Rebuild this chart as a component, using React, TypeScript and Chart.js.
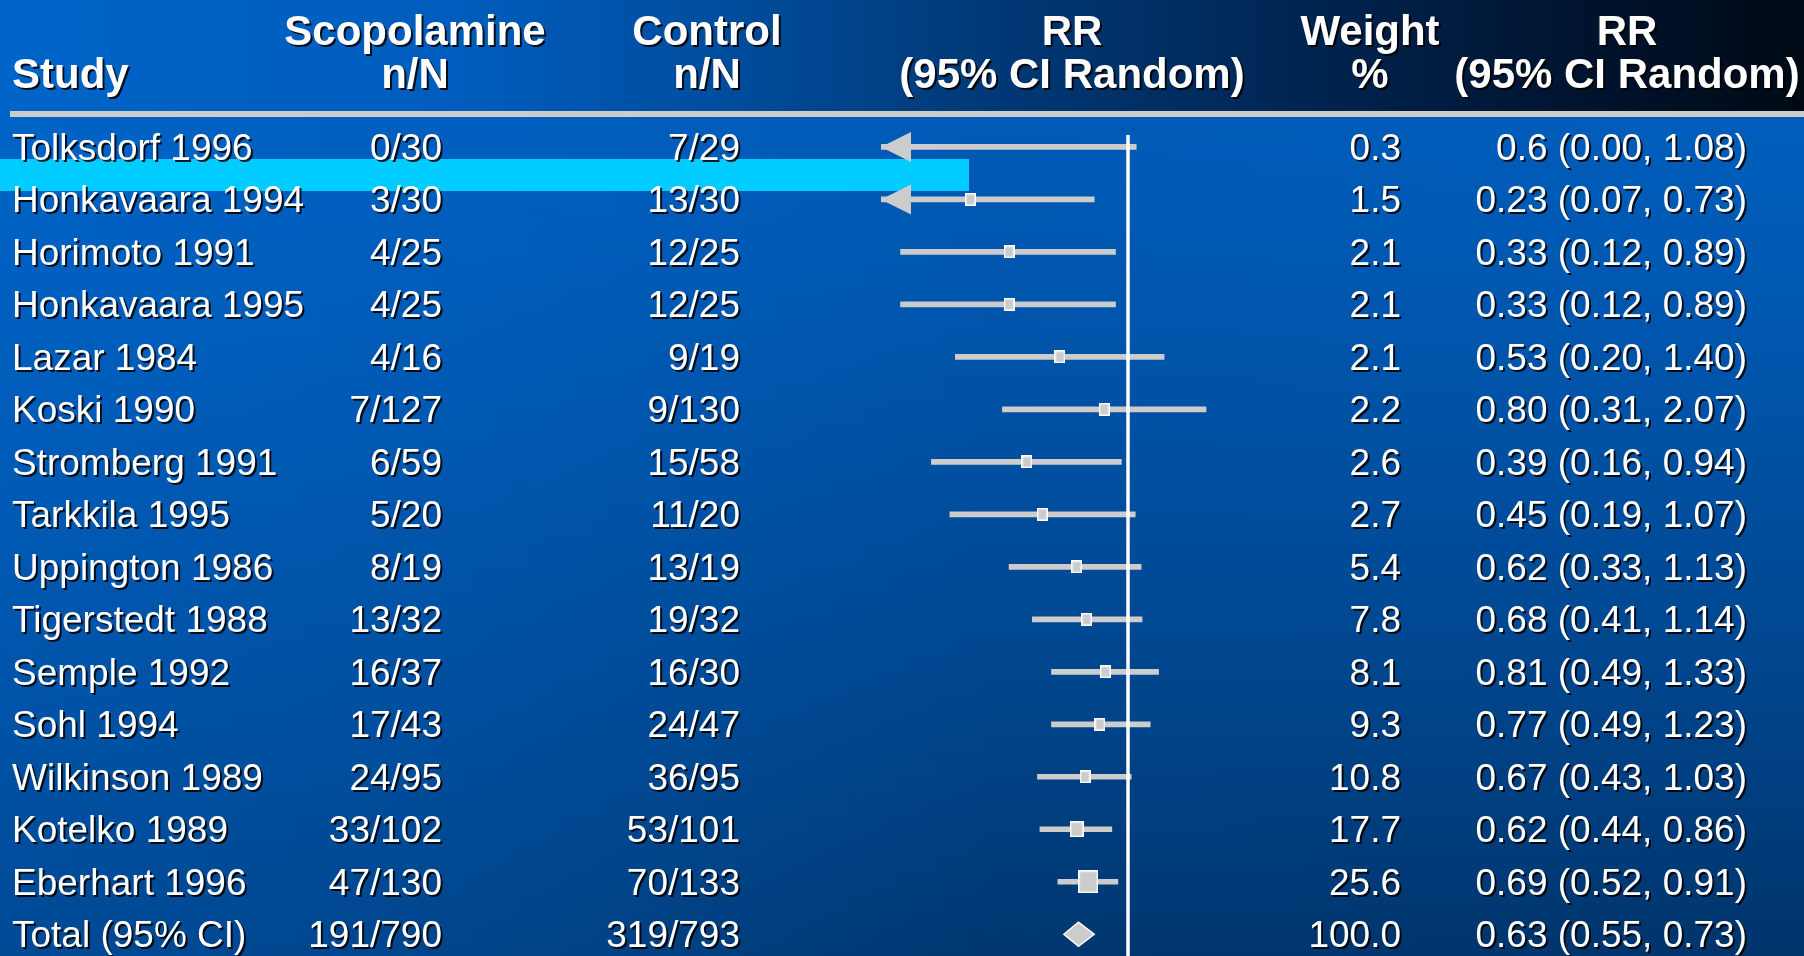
import React, { useEffect, useRef } from "react";
import { Chart, registerables } from "chart.js";

Chart.register(...registerables);

// ---------------- data ----------------
const studies = [
  "Tolksdorf 1996", "Honkavaara 1994", "Horimoto 1991", "Honkavaara 1995", "Lazar 1984",
  "Koski 1990", "Stromberg 1991", "Tarkkila 1995", "Uppington 1986", "Tigerstedt 1988",
  "Semple 1992", "Sohl 1994", "Wilkinson 1989", "Kotelko 1989", "Eberhart 1996", "Total (95% CI)",
];
const scopolamine = [
  "0/30", "3/30", "4/25", "4/25", "4/16", "7/127", "6/59", "5/20", "8/19", "13/32",
  "16/37", "17/43", "24/95", "33/102", "47/130", "191/790",
];
const control = [
  "7/29", "13/30", "12/25", "12/25", "9/19", "9/130", "15/58", "11/20", "13/19", "19/32",
  "16/30", "24/47", "36/95", "53/101", "70/133", "319/793",
];
const rr = [0.6, 0.23, 0.33, 0.33, 0.53, 0.8, 0.39, 0.45, 0.62, 0.68, 0.81, 0.77, 0.67, 0.62, 0.69, 0.63];
const ciLow = [0.0, 0.07, 0.12, 0.12, 0.2, 0.31, 0.16, 0.19, 0.33, 0.41, 0.49, 0.49, 0.43, 0.44, 0.52, 0.55];
const ciHigh = [1.08, 0.73, 0.89, 0.89, 1.4, 2.07, 0.94, 1.07, 1.13, 1.14, 1.33, 1.23, 1.03, 0.86, 0.91, 0.73];
const weights = [0.3, 1.5, 2.1, 2.1, 2.1, 2.2, 2.6, 2.7, 5.4, 7.8, 8.1, 9.3, 10.8, 17.7, 25.6, 100.0];
const rrLabels = [
  "0.6 (0.00, 1.08)", "0.23 (0.07, 0.73)", "0.33 (0.12, 0.89)", "0.33 (0.12, 0.89)",
  "0.53 (0.20, 1.40)", "0.80 (0.31, 2.07)", "0.39 (0.16, 0.94)", "0.45 (0.19, 1.07)",
  "0.62 (0.33, 1.13)", "0.68 (0.41, 1.14)", "0.81 (0.49, 1.33)", "0.77 (0.49, 1.23)",
  "0.67 (0.43, 1.03)", "0.62 (0.44, 0.86)", "0.69 (0.52, 0.91)", "0.63 (0.55, 0.73)",
];
const headerLine1 = ["", "Scopolamine", "Control", "RR", "Weight", "RR"];
const headerLine2 = ["Study", "n/N", "n/N", "(95% CI Random)", "%", "(95% CI Random)"];
const TOTAL_INDEX = 15;

// ---------------- layout / style ----------------
const W = 1804;
const H = 956;
const X_MIN = 0.1;
const X_MAX = 10;
const PLOT_LEFT = 881;
const PLOT_RIGHT = 1375;
const ROW0 = 147;
const STEP = 52.55;
const Y_MIN = -1;
const Y_MAX = 15.3;
const FONT = '"Liberation Sans", Arial, Helvetica, sans-serif';
const GREY = "#cccccc";

const HEADER_BOTTOM = 111;
const RULE_H = 6;
const BODY_TOP_Y = HEADER_BOTTOM + RULE_H;

const headerStops: [number, string][] = [
  [0, "#0064c8"], [0.25, "#005dbd"], [0.4, "#004d9e"], [0.5, "#003f82"],
  [0.6, "#00336c"], [0.72, "#002552"], [0.85, "#001634"], [1, "#000a16"],
];
const BODY_X = [0, 0.25, 0.55, 1];
const BODY_TOP = ["#0063c6", "#005fbf", "#005ab6", "#005dbb"];
const BODY_BOTTOM = ["#004a96", "#00458b", "#003770", "#00346b"];

// column anchors
const headerCenters = [0, 415, 707, 1072, 1370, 1627];
const STUDY_X = 12;
const SCOP_RIGHT = 442;
const CTRL_RIGHT = 740;
const WEIGHT_RIGHT = 1401;
const RR_RIGHT = 1747;

function hex(c: string): number[] {
  const v = parseInt(c.slice(1), 16);
  return [(v >> 16) & 255, (v >> 8) & 255, v & 255];
}
function mix(a: string, b: string, t: number): string {
  const A = hex(a);
  const B = hex(b);
  const r = A.map((v, i) => Math.round(v + (B[i] - v) * t));
  return `rgb(${r[0]},${r[1]},${r[2]})`;
}

function makeBox(weight: number): HTMLCanvasElement {
  const w = Math.round(Math.max(10.5, 0.77 * weight));
  const h = Math.round(w * 1.17);
  const c = document.createElement("canvas");
  c.width = w;
  c.height = h;
  const ctx = c.getContext("2d")!;
  ctx.fillStyle = "#ffffff";
  ctx.fillRect(0, 0, w, h);
  ctx.fillStyle = GREY;
  ctx.fillRect(1.5, 1.5, w - 3, h - 3);
  return c;
}

const forestPlugin = {
  id: "forestDecor",
  beforeDraw(chart: any) {
    const ctx: CanvasRenderingContext2D = chart.ctx;
    ctx.save();
    const hg = ctx.createLinearGradient(0, 0, W, 0);
    headerStops.forEach(([o, c]) => hg.addColorStop(o, c));
    ctx.fillStyle = hg;
    ctx.fillRect(0, 0, W, HEADER_BOTTOM + RULE_H);
    for (let y = BODY_TOP_Y; y < H; y += 3) {
      const t = Math.pow((y - BODY_TOP_Y) / (H - BODY_TOP_Y), 1.3);
      const g = ctx.createLinearGradient(0, 0, W, 0);
      BODY_X.forEach((o, k) => g.addColorStop(o, mix(BODY_TOP[k], BODY_BOTTOM[k], t)));
      ctx.fillStyle = g;
      ctx.fillRect(0, y, W, 3);
    }
    ctx.fillStyle = GREY;
    ctx.fillRect(10, HEADER_BOTTOM, W - 10, RULE_H);
    ctx.fillStyle = "#00ccff";
    ctx.fillRect(0, 159, 969, 32);
    ctx.restore();
  },
  afterDatasetsDraw(chart: any) {
    const ctx: CanvasRenderingContext2D = chart.ctx;
    const xs = chart.scales.x;
    const ys = chart.scales.y;
    ctx.save();

    // reference line at RR = 1
    const x1 = xs.getPixelForValue(1);
    ctx.fillStyle = "#ffffff";
    ctx.fillRect(x1 - 1.75, ys.getPixelForValue(0) - 12, 3.5, H);

    // arrows for CIs below the axis minimum
    ctx.fillStyle = GREY;
    for (let i = 0; i < TOTAL_INDEX; i++) {
      if (ciLow[i] < X_MIN) {
        const tip = xs.getPixelForValue(X_MIN);
        const y = ys.getPixelForValue(i);
        ctx.beginPath();
        ctx.moveTo(tip, y);
        ctx.lineTo(tip + 30, y - 15);
        ctx.lineTo(tip + 30, y + 15);
        ctx.closePath();
        ctx.fill();
      }
    }

    // pooled diamond
    {
      const y = ys.getPixelForValue(TOTAL_INDEX);
      const l = xs.getPixelForValue(ciLow[TOTAL_INDEX]);
      const r = xs.getPixelForValue(ciHigh[TOTAL_INDEX]);
      const c = xs.getPixelForValue(rr[TOTAL_INDEX]);
      ctx.beginPath();
      ctx.moveTo(l, y);
      ctx.lineTo(c, y - 12);
      ctx.lineTo(r, y);
      ctx.lineTo(c, y + 12);
      ctx.closePath();
      ctx.fillStyle = GREY;
      ctx.fill();
      ctx.strokeStyle = "#ffffff";
      ctx.lineWidth = 1.5;
      ctx.stroke();
    }

    // texts
    ctx.fillStyle = "#ffffff";
    ctx.shadowColor = "rgba(0,0,0,0.85)";
    ctx.shadowOffsetX = 2;
    ctx.shadowOffsetY = 2;
    ctx.shadowBlur = 0;
    ctx.textBaseline = "alphabetic";

    ctx.font = `bold 42px ${FONT}`;
    headerLine1.forEach((t, k) => {
      if (!t) return;
      ctx.textAlign = "center";
      ctx.fillText(t, headerCenters[k], 45);
    });
    headerLine2.forEach((t, k) => {
      if (k === 0) {
        ctx.textAlign = "left";
        ctx.fillText(t, STUDY_X, 88);
      } else {
        ctx.textAlign = "center";
        ctx.fillText(t, headerCenters[k], 88);
      }
    });

    ctx.font = `37px ${FONT}`;
    for (let i = 0; i < studies.length; i++) {
      const yb = ys.getPixelForValue(i) + 13;
      ctx.textAlign = "left";
      ctx.fillText(studies[i], STUDY_X, yb);
      ctx.textAlign = "right";
      ctx.fillText(scopolamine[i], SCOP_RIGHT, yb);
      ctx.fillText(control[i], CTRL_RIGHT, yb);
      ctx.fillText(weights[i].toFixed(1), WEIGHT_RIGHT, yb);
      ctx.fillText(rrLabels[i], RR_RIGHT, yb);
    }
    ctx.restore();
  },
};

export default function App() {
  const ref = useRef<HTMLCanvasElement>(null);

  useEffect(() => {
    const canvas = ref.current;
    if (!canvas) return;
    const idx = studies.map((_, i) => i).filter((i) => i !== TOTAL_INDEX);
    const barData = idx.map((i) => ({ x: [Math.max(ciLow[i], X_MIN), ciHigh[i]], y: i }));
    const pointData = idx.map((i) => ({ x: rr[i], y: i }));
    const boxes = idx.map((i) => makeBox(weights[i]));
    const radii = idx.map((i) => (weights[i] < 1 ? 0 : 6));

    const padTop = ROW0 - (0 - Y_MIN) * STEP;
    const padBottom = H - (ROW0 + (Y_MAX - 0) * STEP);

    const chart = new Chart(canvas, {
      type: "bar",
      data: {
        datasets: [
          {
            type: "scatter",
            data: pointData as any,
            pointStyle: boxes as any,
            pointRadius: radii,
            pointHoverRadius: radii,
            borderWidth: 0,
            order: 0,
          } as any,
          {
            type: "bar",
            data: barData as any,
            backgroundColor: GREY,
            borderWidth: 0,
            barThickness: 5,
            indexAxis: "y",
            order: 1,
          } as any,
        ],
      },
      options: {
        indexAxis: "y",
        responsive: false,
        animation: false,
        events: [],
        layout: {
          padding: { left: PLOT_LEFT, right: W - PLOT_RIGHT, top: padTop, bottom: padBottom },
        },
        plugins: { legend: { display: false }, tooltip: { enabled: false } },
        scales: {
          x: {
            type: "logarithmic",
            min: X_MIN,
            max: X_MAX,
            display: false,
            offset: false,
            beginAtZero: false,
          },
          y: {
            type: "linear",
            min: Y_MIN,
            max: Y_MAX,
            reverse: true,
            display: false,
            offset: false,
            beginAtZero: false,
          },
        },
      } as any,
      plugins: [forestPlugin],
    });
    return () => chart.destroy();
  }, []);

  return (
    <div style={{ position: "fixed", left: 0, top: 0, width: W, height: H }}>
      <canvas ref={ref} width={W} height={H} style={{ display: "block" }} />
    </div>
  );
}
